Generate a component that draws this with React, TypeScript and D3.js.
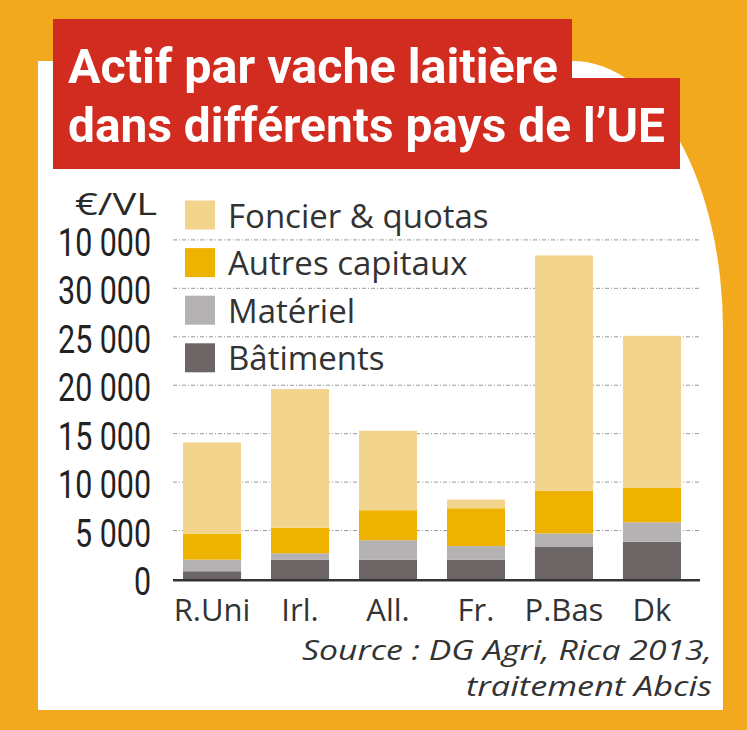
import React from "react";
import * as d3 from "d3";

const categories = ["R.Uni", "Irl.", "All.", "Fr.", "P.Bas", "Dk"];
const batiments = [800, 2000, 2000, 2000, 3300, 3850];
const materiel = [1200, 650, 2000, 1400, 1400, 2000];
const autresCapitaux = [2650, 2650, 3100, 3900, 4400, 3550];
const foncierQuotas = [9450, 14300, 8200, 900, 24300, 15700];
const seriesKeys = ["Bâtiments", "Matériel", "Autres capitaux", "Foncier & quotas"];
const seriesColors = ["#6b6566", "#b4b2b2", "#eeb300", "#f3d48c"];
const legendOrder = ["Foncier & quotas", "Autres capitaux", "Matériel", "Bâtiments"];
const tickValues = [0, 5000, 10000, 15000, 20000, 25000, 30000, 35000];
const tickLabels = ["0", "5 000", "10 000", "15 000", "20 000", "25 000", "30 000", "10 000"];
const titleLines = ["Actif par vache laitière", "dans différents pays de l’UE"];
const unitLabel = "€/VL";
const sourceLines = ["Source : DG Agri, Rica 2013,", "traitement Abcis"];

export default function App() {
  const W = 747;
  const H = 730;
  const rows = categories.map((c, i) => ({
    cat: c,
    "Bâtiments": batiments[i],
    "Matériel": materiel[i],
    "Autres capitaux": autresCapitaux[i],
    "Foncier & quotas": foncierQuotas[i],
  }));
  const stack = d3.stack<any>().keys(seriesKeys);
  const layers = stack(rows);
  const x = d3.scaleBand().domain(categories).range([183, 681]).paddingInner(0.34).paddingOuter(0);
  const y = d3.scaleLinear().domain([0, 35000]).range([579, 239.9]);
  const color = d3.scaleOrdinal<string, string>().domain(seriesKeys).range(seriesColors);

  const gridX0 = 173;
  const gridX1 = 700;
  const sans = "'Open Sans', sans-serif";

  return (
    <svg width={W} height={H} style={{ position: "absolute", left: 0, top: 0, display: "block" }}>
      <rect x={0} y={0} width={W} height={H} fill="#f2a91d" />
      <path d="M38,61 H573 A150,269 0 0 1 723,330 V710 H38 Z" fill="#ffffff" />

      {/* gridlines */}
      {tickValues.slice(1).map((v) => (
        <line key={v} x1={gridX0} x2={gridX1} y1={y(v)} y2={y(v)} stroke="#9a9a9a" strokeWidth={1} strokeDasharray="4 2 1 2" />
      ))}

      {/* bars */}
      {layers.map((layer) => (
        <g key={layer.key} fill={color(layer.key)}>
          {layer.map((d, i) => (
            <rect key={i} x={x(categories[i])} y={y(d[1])} width={x.bandwidth()} height={y(d[0]) - y(d[1])} />
          ))}
        </g>
      ))}

      {/* baseline */}
      <line x1={gridX0} x2={gridX1} y1={y(0) + 1.3} y2={y(0) + 1.3} stroke="#333" strokeWidth={2.4} />

      {/* y tick labels */}
      {tickValues.map((v, i) => (
        <text
          key={v}
          transform={`translate(151,${y(v) + 16}) scale(0.8,1)`}
          textAnchor="end"
          fontFamily="Roboto, sans-serif"
          fontWeight={400}
          fontSize={38}
          fill="#222"
        >
          {tickLabels[i]}
        </text>
      ))}
      <text x={75} y={215} fontFamily={sans} fontSize={31} fill="#2a2a2a" textLength={82} lengthAdjust="spacingAndGlyphs">
        {unitLabel}
      </text>

      {/* legend */}
      {legendOrder.map((k, i) => {
        const top = 200.5 + i * 47.6;
        return (
          <g key={k}>
            <rect x={185} y={top} width={30} height={29} fill={color(k)} />
            <text x={228} y={top + 27} fontFamily={sans} fontSize={33} fill="#333">
              {k}
            </text>
          </g>
        );
      })}

      {/* category labels */}
      {categories.map((c) => (
        <text key={c} x={(x(c) as number) + x.bandwidth() / 2} y={621} textAnchor="middle" fontFamily={sans} fontSize={31} fill="#333">
          {c}
        </text>
      ))}

      {/* source */}
      <text x={302} y={660} fontFamily={sans} fontStyle="italic" fontSize={28} fill="#333" textLength={410} lengthAdjust="spacingAndGlyphs">
        {sourceLines[0]}
      </text>
      <text x={466} y={696} fontFamily={sans} fontStyle="italic" fontSize={28} fill="#333" textLength={246} lengthAdjust="spacingAndGlyphs">
        {sourceLines[1]}
      </text>

      {/* title */}
      <rect x={53} y={19} width={519} height={70} fill="#d22b20" />
      <rect x={53} y={78} width={627} height={91} fill="#d22b20" />
      <text x={68} y={83} fontFamily="Roboto, sans-serif" fontWeight={700} fontSize={49} fill="#ffffff" textLength={490} lengthAdjust="spacingAndGlyphs">
        {titleLines[0]}
      </text>
      <text x={68} y={142} fontFamily="Roboto, sans-serif" fontWeight={700} fontSize={49} fill="#ffffff" textLength={597} lengthAdjust="spacingAndGlyphs">
        {titleLines[1]}
      </text>
    </svg>
  );
}
